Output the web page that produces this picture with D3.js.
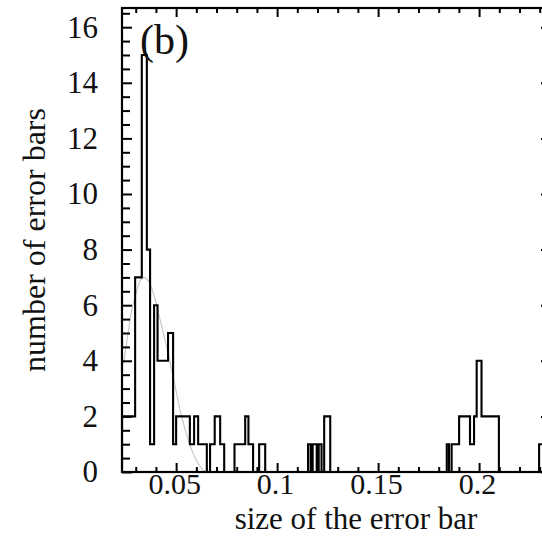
<!DOCTYPE html>
<html>
<head>
<meta charset="utf-8">
<script src="https://cdn.jsdelivr.net/npm/d3@7"></script>
<style>
  html, body { margin: 0; padding: 0; background: #fff; overflow: hidden; }
  text { font-family: "Liberation Serif", "Times New Roman", serif; fill: #111; }
</style>
</head>
<body>
<svg id="chart" width="542" height="537"></svg>
<script>
// Histogram of error-bar sizes: bin edges and the number of error bars in each bin
const binEdges = [
  0.0232, 0.0297, 0.0330, 0.0355, 0.0371, 0.0391, 0.0408, 0.0460, 0.0485, 0.0500,
  0.0568, 0.0589, 0.0609, 0.0652, 0.0668, 0.0691, 0.0718, 0.0738, 0.0789, 0.0842,
  0.0858, 0.0881, 0.0911, 0.0941, 0.1153, 0.1166, 0.1176, 0.1196, 0.1206, 0.1220,
  0.1233, 0.1263, 0.1840, 0.1851, 0.1864, 0.1901, 0.1955, 0.1975, 0.1988, 0.2012,
  0.2098, 0.2297, 0.2400
];
const binCounts = [
  2, 7, 15, 8, 1, 6, 4, 5, 1,
  2, 1, 2, 1, 0, 1, 2, 1, 0, 1,
  2, 1, 0, 1, 0, 1, 0, 1, 0, 1,
  0, 2, 0, 1, 0, 1, 2, 1, 2, 4,
  2, 0, 1
];

// Smooth reference curve (size, count) traced over the main peak
const curveSize  = [0.0240, 0.0260, 0.0280, 0.0300, 0.0320, 0.0340, 0.0360, 0.0380, 0.0400, 0.0420,
                    0.0440, 0.0460, 0.0480, 0.0500, 0.0520, 0.0540, 0.0560, 0.0580, 0.0600, 0.0620, 0.0645];
const curveCount = [3.9, 4.9, 5.8, 6.4, 6.85, 7.0, 6.9, 6.6, 6.1, 5.5,
                    4.9, 4.3, 3.6, 2.9, 2.2, 1.65, 1.15, 0.75, 0.42, 0.18, 0.0];

// Axis ticks
const xMajorTicks = [0.05, 0.1, 0.15, 0.2];
const xTickLabels = ["0.05", "0.1", "0.15", "0.2"];
const xMinorTicks = [0.03, 0.04, 0.06, 0.07, 0.08, 0.09, 0.11, 0.12, 0.13, 0.14, 0.16, 0.17, 0.18, 0.19, 0.21, 0.22, 0.23];
const yMajorTicks = [0, 2, 4, 6, 8, 10, 12, 14, 16];
const yMinorTicks = d3.range(0.5, 16.6, 0.5).filter(v => v % 2 !== 0);

const xLabel = "size of the error bar";
const yLabel = "number of error bars";
const panelLabel = "(b)";

const svg = d3.select("#chart");
const plot = { left: 122, right: 551, top: 8, bottom: 472 };

const x = d3.scaleLinear().domain([0.0232, 0.2356]).range([plot.left, plot.right]);
const y = d3.scaleLinear().domain([0, 16.69]).range([plot.bottom, plot.top]);

svg.append("defs").append("clipPath").attr("id", "plotClip")
  .append("rect")
  .attr("x", plot.left).attr("y", plot.top)
  .attr("width", plot.right - plot.left).attr("height", plot.bottom - plot.top);

const inner = svg.append("g").attr("clip-path", "url(#plotClip)");

// Reference curve
const curveData = curveSize.map((s, i) => [s, curveCount[i]]);
inner.append("path")
  .datum(curveData)
  .attr("fill", "none")
  .attr("stroke", "#c8c8c8")
  .attr("stroke-width", 1.2)
  .attr("d", d3.line().x(d => x(d[0])).y(d => y(d[1])).curve(d3.curveMonotoneX));

// Histogram outline as a step line
const steps = [[binEdges[0], 0]];
binCounts.forEach((c, i) => {
  steps.push([binEdges[i], c]);
  steps.push([binEdges[i + 1], c]);
});
steps.push([binEdges[binEdges.length - 1], 0]);

inner.append("path")
  .datum(steps)
  .attr("fill", "none")
  .attr("stroke", "#000")
  .attr("stroke-width", 2.1)
  .attr("stroke-linejoin", "miter")
  .attr("d", d3.line().x(d => x(d[0])).y(d => y(d[1])));

// Frame ticks (pointing inward on all four sides)
function tickStyle(g) {
  g.select(".domain").remove();
  g.selectAll(".tick line").attr("stroke", "#000").attr("stroke-width", 2);
}
const fontSize = 31;

// bottom
svg.append("g").attr("transform", `translate(0,${plot.bottom})`)
  .call(d3.axisBottom(x).tickValues(xMinorTicks).tickSize(-5).tickFormat(""))
  .call(tickStyle);
const xAxis = svg.append("g").attr("transform", `translate(0,${plot.bottom})`)
  .call(d3.axisBottom(x).tickValues(xMajorTicks).tickSize(-9).tickPadding(1)
    .tickFormat((d, i) => xTickLabels[i]))
  .call(tickStyle);
xAxis.selectAll(".tick text").attr("font-size", 30).attr("dx", "-2");

// top
svg.append("g").attr("transform", `translate(0,${plot.top})`)
  .call(d3.axisTop(x).tickValues(xMinorTicks).tickSize(-5).tickFormat(""))
  .call(tickStyle);
svg.append("g").attr("transform", `translate(0,${plot.top})`)
  .call(d3.axisTop(x).tickValues(xMajorTicks).tickSize(-9).tickFormat(""))
  .call(tickStyle);

// left
svg.append("g").attr("transform", `translate(${plot.left},0)`)
  .call(d3.axisLeft(y).tickValues(yMinorTicks).tickSize(-8).tickFormat(""))
  .call(tickStyle);
const yAxis = svg.append("g").attr("transform", `translate(${plot.left},0)`)
  .call(d3.axisLeft(y).tickValues(yMajorTicks).tickSize(-10).tickPadding(24))
  .call(tickStyle);
yAxis.selectAll(".tick text").attr("font-size", fontSize);

// right
svg.append("g").attr("transform", `translate(${plot.right},0)`)
  .call(d3.axisRight(y).tickValues(yMinorTicks).tickSize(-7).tickFormat(""))
  .call(tickStyle);
svg.append("g").attr("transform", `translate(${plot.right},0)`)
  .call(d3.axisRight(y).tickValues(yMajorTicks).tickSize(-10).tickFormat(""))
  .call(tickStyle);

// Frame
svg.append("rect")
  .attr("x", plot.left).attr("y", plot.top)
  .attr("width", plot.right - plot.left).attr("height", plot.bottom - plot.top)
  .attr("fill", "none").attr("stroke", "#000").attr("stroke-width", 2.2);

// Titles
svg.append("text")
  .attr("x", 356).attr("y", 529)
  .attr("text-anchor", "middle")
  .attr("font-size", 31)
  .text(xLabel);

svg.append("text")
  .attr("transform", "translate(45,240) rotate(-90)")
  .attr("text-anchor", "middle")
  .attr("font-size", 32)
  .text(yLabel);

svg.append("text")
  .attr("x", 140).attr("y", 54)
  .attr("font-size", 42)
  .text(panelLabel);
</script>
</body>
</html>
